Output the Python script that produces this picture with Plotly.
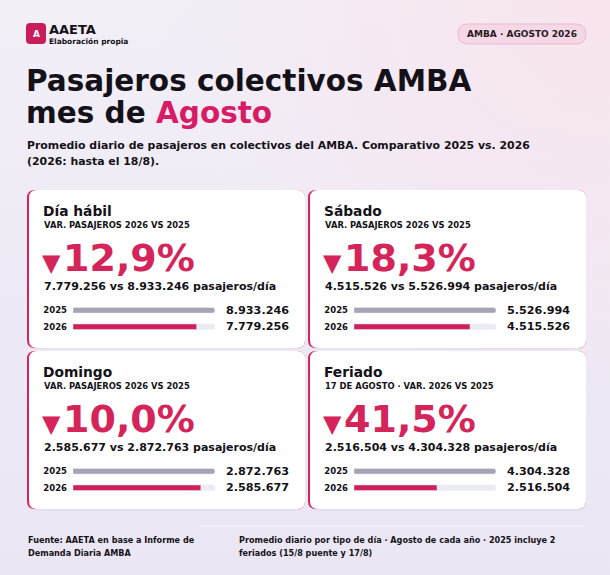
import base64
import plotly.graph_objects as go

# --- data ---
dias = ["Día hábil", "Sábado", "Domingo", "Feriado"]
subtitulos = ["VAR. PASAJEROS 2026 VS 2025", "VAR. PASAJEROS 2026 VS 2025",
              "VAR. PASAJEROS 2026 VS 2025", "17 DE AGOSTO · VAR. 2026 VS 2025"]
anios = ["2025", "2026"]
pax_2025 = [8933246, 5526994, 2872763, 4304328]
pax_2026 = [7779256, 4515526, 2585677, 2516504]

W, H = 610, 575
FONT = "DejaVu Sans"
ACCENT = "#d4245a"
PINK = "#d81b65"
GREY = "#a6a3b4"
TRACK = "#ecebf3"
INK = "#141218"


def fmt(v):
    return f"{v:,}".replace(",", ".")


def pct(a, b):
    return f"{abs((b / a - 1) * 100):.1f}".replace(".", ",") + "%"


def rrect(x0, y0, x1, y1, r):
    return (f"M{x0+r},{y0} L{x1-r},{y0} Q{x1},{y0} {x1},{y0+r} L{x1},{y1-r} "
            f"Q{x1},{y1} {x1-r},{y1} L{x0+r},{y1} Q{x0},{y1} {x0},{y1-r} "
            f"L{x0},{y0+r} Q{x0},{y0} {x0+r},{y0} Z")


def txt(x, y, s, size, color=INK, anchor="left", weight="bold"):
    fig.add_annotation(x=x, y=y, xref="x", yref="y", text=s, showarrow=False,
                       xanchor=anchor, yanchor="middle", align=anchor,
                       font=dict(family=FONT, size=size, color=color, weight=weight))


fig = go.Figure()

# background gradient as svg image
svg = (f"<svg xmlns='http://www.w3.org/2000/svg' width='{W}' height='{H}'>"
       "<defs><linearGradient id='a' x1='0' y1='0' x2='0' y2='1'>"
       "<stop offset='0' stop-color='#f2eff7'/><stop offset='1' stop-color='#ebe6f4'/></linearGradient>"
       "<radialGradient id='b' cx='1' cy='0' r='0.75'>"
       "<stop offset='0' stop-color='#f8e4ee'/><stop offset='1' stop-color='#f8e4ee' stop-opacity='0'/></radialGradient></defs>"
       f"<rect width='{W}' height='{H}' fill='url(#a)'/><rect width='{W}' height='{H}' fill='url(#b)'/></svg>")
fig.add_layout_image(source="data:image/svg+xml;base64," + base64.b64encode(svg.encode()).decode(),
                     xref="paper", yref="paper", x=0, y=1, sizex=1, sizey=1,
                     xanchor="left", yanchor="top", sizing="stretch", layer="below")

# header
fig.add_shape(type="path", path=rrect(26, 23, 46, 44, 4), fillcolor="#c81d5a",
              line_width=0, layer="below")
txt(36, 33.5, "A", 9, "white", "center")
txt(46.5, 29, "AAETA", 13)
txt(46.5, 41, "Elaboración propia", 7.5)
fig.add_shape(type="path", path=rrect(458, 24, 586, 44, 10), fillcolor="#f5d8e6",
              line=dict(color="#eab9d0", width=1), layer="below")
txt(522, 34, "AMBA · AGOSTO 2026", 9, "#2a1a24", "center")

txt(24, 81, "Pasajeros colectivos AMBA", 29.5)
txt(24, 113, f"mes de <span style='color:{PINK}'>Agosto</span>", 29.5)
txt(25, 145, "Promedio diario de pasajeros en colectivos del AMBA. Comparativo 2025 vs. 2026", 10.9)
txt(25, 161.5, "(2026: hasta el 18/8).", 10.9)

# cards
card_x = [27, 308, 27, 308]
card_y = [190, 190, 351, 351]
cw, ch = 278, 158
bar_x0, bar_x1 = 46, 188

for i, dia in enumerate(dias):
    cx, cy = card_x[i], card_y[i]
    fig.add_shape(type="path", path=rrect(cx, cy + 1.5, cx + cw, cy + ch + 1.5, 8),
                  fillcolor="rgba(110,90,140,0.07)", line_width=0, layer="below")
    fig.add_shape(type="path", path=rrect(cx, cy, cx + cw, cy + ch, 8),
                  fillcolor=ACCENT, line_width=0, layer="below")
    fig.add_shape(type="path", path=rrect(cx + 2, cy, cx + cw, cy + ch, 8),
                  fillcolor="white", line_width=0, layer="below")

    txt(cx + 14, cy + 21, dia, 13.8)
    txt(cx + 14.5, cy + 35, subtitulos[i], 8.4)
    txt(cx + 13, cy + 73, "▼", 24, ACCENT)
    txt(cx + 34, cy + 68, pct(pax_2025[i], pax_2026[i]), 38, ACCENT)
    txt(cx + 14.5, cy + 96, f"{fmt(pax_2026[i])} vs {fmt(pax_2025[i])} pasajeros/día", 11)
    txt(cx + 264, cy + 120, fmt(pax_2025[i]), 11.2, anchor="right")
    txt(cx + 264, cy + 136, fmt(pax_2026[i]), 11.2, anchor="right")

    n = i + 2
    xa, ya = f"x{n}", f"y{n}"
    fig.add_trace(go.Bar(x=[pax_2025[i]], y=[anios[1]], orientation="h", xaxis=xa, yaxis=ya,
                         marker=dict(color=TRACK, cornerradius=3), width=0.34,
                         hoverinfo="skip", showlegend=False))
    fig.add_trace(go.Bar(x=[pax_2025[i], pax_2026[i]], y=anios, orientation="h", xaxis=xa, yaxis=ya,
                         marker=dict(color=[GREY, "#cf2158"], cornerradius=3), width=0.34,
                         hoverinfo="skip", showlegend=False))
    fig.layout[f"xaxis{n}"] = dict(domain=[(cx + bar_x0) / W, (cx + bar_x1) / W],
                                   range=[0, pax_2025[i]], visible=False, fixedrange=True)
    fig.layout[f"yaxis{n}"] = dict(domain=[1 - (cy + 145) / H, 1 - (cy + 112) / H],
                                   type="category", categoryarray=anios, autorange="reversed",
                                   showgrid=False, zeroline=False, showline=False, ticks="",
                                   ticklabelstandoff=5,
                                   tickfont=dict(family=FONT, size=8.5, color=INK, weight="bold"),
                                   anchor=xa, fixedrange=True)

# footer
fig.add_shape(type="line", x0=200, x1=585, y0=526, y1=526,
              line=dict(color="rgba(255,255,255,0.7)", width=1), layer="below")
txt(26, 540, "Fuente: AAETA en base a Informe de", 8.1)
txt(26, 553, "Demanda Diaria AMBA", 8.1)
txt(236.5, 540, "Promedio diario por tipo de día · Agosto de cada año · 2025 incluye 2", 8.1)
txt(236.5, 553, "feriados (15/8 puente y 17/8)", 8.1)

fig.update_layout(
    width=W, height=H, margin=dict(l=0, r=0, t=0, b=0),
    paper_bgcolor="#efebf5", plot_bgcolor="rgba(0,0,0,0)",
    barmode="overlay", showlegend=False,
    xaxis=dict(range=[0, W], visible=False, fixedrange=True, domain=[0, 1]),
    yaxis=dict(range=[H, 0], visible=False, fixedrange=True, domain=[0, 1]),
)

fig.write_html("out.html", config={"displayModeBar": False},
               post_script="document.body.style.margin='0';document.body.style.overflow='hidden';")
